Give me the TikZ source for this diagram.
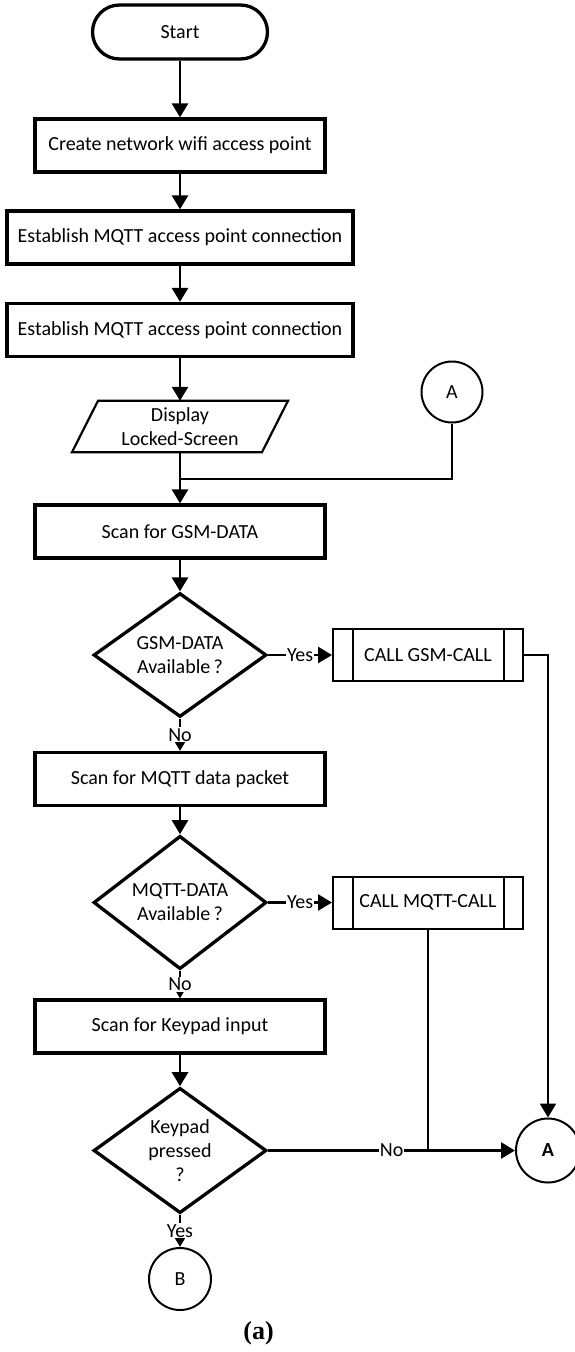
\documentclass[tikz,border=0pt]{standalone}
\usepackage{fontspec}
\setmainfont{Carlito}
\newfontfamily\captionfont{Liberation Serif}
\usetikzlibrary{shapes.geometric,arrows.meta,calc}

\begin{document}
\begin{tikzpicture}[x=1pt,y=-1pt,
  every node/.style={font=\fontsize{20}{24}\selectfont, inner sep=0pt, align=center},
  procbox/.style={draw, line width=3.3pt, minimum width=290pt, minimum height=53pt},
  wideproc/.style={procbox, minimum width=346pt},
  terminal/.style={draw, line width=3.3pt, rounded corners=27pt, minimum width=175pt, minimum height=54pt},
  decision/.style={draw, diamond, line width=3.3pt, minimum width=173pt, minimum height=104pt},
  subproc/.style={draw, line width=2pt, minimum width=190pt, minimum height=52pt},
  connector/.style={draw, circle, line width=2pt, minimum size=61pt},
  flow/.style={line width=2.7pt, -{Triangle[length=14pt,width=16pt]}},
  smallflow/.style={line width=2.7pt, -{Triangle[length=11pt,width=12pt]}},
  plain/.style={line width=2.2pt},
  lbl/.style={fill=white, inner sep=1pt}
]
\useasboundingbox (0,0) rectangle (575,1352);

% main column
\node[terminal] (start) at (180,32) {Start};
\node[procbox] (wifi) at (180,145.5) {Create network wifi access point};
\node[wideproc] (mqtta) at (180,237.5) {Establish MQTT access point connection};
\node[wideproc] (mqttb) at (180,330) {Establish MQTT access point connection};
\node[minimum width=190pt, minimum height=51pt] (disp) at (180,426.5) {Display\\Locked-Screen};
\draw[line width=2.2pt, line join=miter]
  ([xshift=-82pt]disp.north) -- ([xshift=108pt]disp.north)
  -- ([xshift=82pt]disp.south) -- ([xshift=-108pt]disp.south) -- cycle;
\node[connector] (conA) at (452,392) {A};
\coordinate (merge) at (180,479);
\node[procbox] (scangsm) at (180,531.5) {Scan for GSM-DATA};
\node[decision] (gsmq) at (180,655) {GSM-DATA\\Available\,?};
\node[subproc] (gsmcall) at (428,655) {CALL GSM-CALL};
\node[procbox] (scanmqtt) at (180,779) {Scan for MQTT data packet};
\node[decision] (mqttq) at (180,902.5) {MQTT-DATA\\Available\,?};
\node[subproc] (mqttcall) at (428,902.5) {CALL MQTT-CALL};
\node[procbox] (scankey) at (180,1026.5) {Scan for Keypad input};
\node[decision] (keyq) at (180,1150.5) {Keypad\\pressed\\?};
\node[connector, minimum size=64pt] (conA2) at (548,1150.5) {\bfseries A};
\node[connector, minimum size=62pt] (conB) at (180,1279) {B};
\coordinate (join) at (428,1150.5);
\node (cap) at (258.5,1333) {\captionfont\bfseries\fontsize{26}{30}\selectfont (a)};

% side bars of the predefined-process boxes
\foreach \b in {gsmcall,mqttcall}{
  \draw[line width=2pt] ([xshift=21pt]\b.north west) -- ([xshift=21pt]\b.south west);
  \draw[line width=2pt] ([xshift=-20pt]\b.north east) -- ([xshift=-20pt]\b.south east);
}

% connectors
\draw[flow] (start) -- (wifi);
\draw[flow] (wifi) -- (mqtta);
\draw[flow] (mqtta) -- (mqttb);
\draw[flow] (mqttb) -- (disp.north);
\draw[flow] (disp.south) -- (scangsm.north);
\draw[plain] (conA.south) |- (merge);
\draw[flow] (scangsm) -- (gsmq);
\draw[flow] (gsmq.east) -- node[lbl] {Yes} (gsmcall.west);
\draw[flow] (gsmq.south) -- node[lbl] {No} (scanmqtt.north);
\draw[flow] (scanmqtt) -- (mqttq);
\draw[flow] (mqttq.east) -- node[lbl] {Yes} (mqttcall.west);
\draw[flow] (mqttq.south) -- node[lbl] {No} (scankey.north);
\draw[flow] (scankey) -- (keyq);
\draw[flow] (keyq.east) -- node[lbl] {No} (conA2.west);
\draw[smallflow] (keyq.south) -- node[lbl] {Yes} (conB.north);
\draw[plain] (mqttcall.south) -- (join);
\draw[flow, line width=2.2pt] (gsmcall.east) -| (conA2.north);
\end{tikzpicture}
\end{document}
